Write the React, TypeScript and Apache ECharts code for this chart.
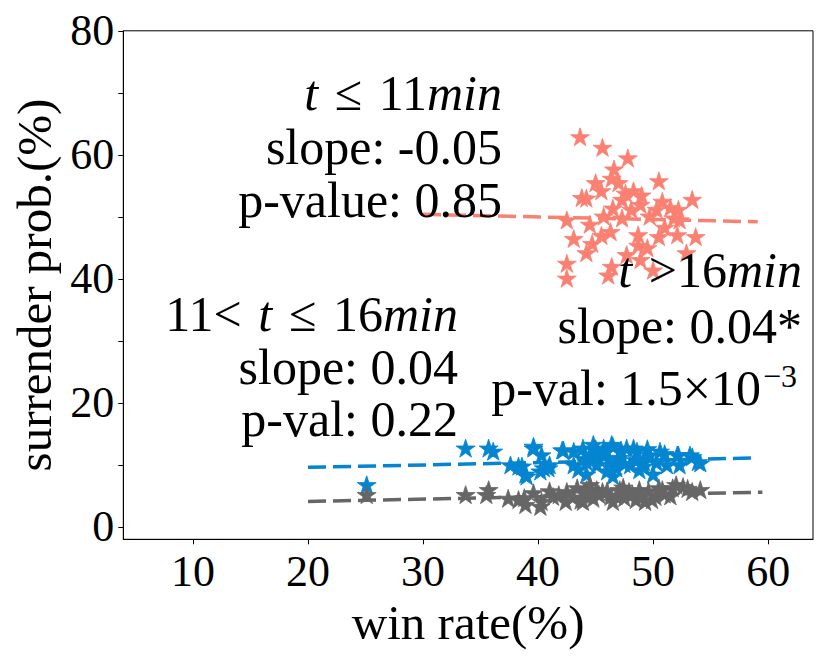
import React, { useEffect, useRef } from "react";
import * as echarts from "echarts";

// ---- data ----
const pinkWinRate = [43.65, 45.6, 47.8, 46.6, 46.4, 45.0, 50.5, 45.5, 44.2, 43.8, 47.6, 48.3, 47.3, 48.9, 50.8, 53.4, 46.5, 48.1, 50.3, 52.2, 45.7, 47.3, 42.5, 49.7, 51.8, 52.3, 46.3, 48.7, 50.5, 52.1, 53.7, 43.1, 44.7, 48.7, 44.2, 47.7, 48.9, 52.9, 42.5, 46.4, 50.0, 42.5, 46.1, 49.0, 51.5, 47.0, 44.5, 45.5, 49.5, 51.0];
const pinkSurrender = [62.9, 61.2, 59.5, 57.7, 56.2, 55.5, 55.8, 54.2, 53.0, 53.1, 53.8, 54.2, 52.8, 52.0, 52.5, 52.8, 51.4, 51.2, 51.2, 51.2, 50.1, 49.8, 49.5, 50.1, 49.8, 49.5, 47.6, 47.1, 46.8, 47.1, 46.8, 46.5, 45.7, 45.4, 44.2, 43.9, 43.1, 44.2, 42.5, 42.0, 41.4, 40.1, 40.6, 53.5, 51.5, 55.5, 48.8, 47.0, 45.0, 48.3];

const blueWinRate = [25.1, 33.7, 35.7, 36.1, 39.6, 40.3, 37.6, 38.3, 38.9, 40.5, 41.0, 42.2, 39.6, 38.6, 39.0, 42.1, 40.9, 40.2, 43.1, 43.9, 44.8, 45.7, 46.5, 43.1, 44.2, 45.1, 46.0, 46.8, 47.7, 48.6, 48.0, 49.2, 50.0, 50.6, 49.7, 52.1, 53.2, 54.1, 52.3, 51.2, 44.2, 46.5, 46.4, 48.3, 52.2, 53.4, 53.9, 49.2, 44.5, 45.3, 46.2, 47.0, 47.5, 48.5, 45.8, 44.0, 47.2, 49.5, 50.3, 51.0, 43.5, 46.6, 48.8, 45.0];
const blueSurrender = [6.8, 12.7, 12.7, 12.2, 13.0, 11.6, 10.0, 9.8, 8.5, 9.5, 10.0, 12.4, 12.7, 9.8, 8.2, 12.4, 9.5, 9.0, 12.2, 12.7, 13.3, 12.7, 13.0, 10.0, 10.5, 10.0, 9.0, 9.5, 12.7, 12.2, 10.0, 10.5, 8.5, 12.2, 11.6, 11.6, 11.6, 10.3, 10.0, 10.0, 8.5, 8.2, 13.3, 12.7, 11.6, 11.3, 10.5, 9.8, 11.5, 11.0, 10.8, 11.2, 10.2, 10.8, 12.0, 11.0, 12.4, 12.6, 10.4, 11.8, 9.3, 10.0, 9.2, 12.6];

const grayWinRate = [25.1, 33.7, 35.7, 35.5, 37.4, 38.3, 38.9, 39.6, 40.3, 40.2, 41.3, 42.5, 43.4, 43.9, 45.1, 46.3, 38.8, 44.5, 45.6, 47.1, 47.9, 48.8, 49.9, 50.5, 51.7, 52.6, 53.4, 54.1, 42.4, 46.5, 48.5, 49.3, 52.0, 41.8, 43.0, 44.0, 44.8, 45.3, 46.0, 46.8, 47.5, 48.2, 49.0, 49.6, 50.2, 51.0, 51.5, 47.4, 44.2, 50.8, 53.0, 41.0, 43.7];
const graySurrender = [5.2, 5.2, 6.0, 5.2, 4.6, 4.4, 3.6, 5.5, 4.1, 3.3, 4.9, 5.7, 6.3, 4.1, 6.0, 4.9, 4.7, 6.8, 5.7, 6.0, 5.7, 6.0, 4.4, 6.3, 6.3, 6.5, 5.7, 6.0, 4.1, 4.1, 4.4, 4.1, 6.8, 5.2, 4.8, 5.5, 4.6, 5.2, 5.8, 5.0, 4.7, 5.3, 5.0, 5.8, 4.9, 5.3, 5.0, 6.4, 6.0, 6.0, 6.2, 5.8, 4.3];

// regression line end points [x0, x1], [y0, y1]
const pinkFitX = [30, 59.1];
const pinkFitY = [50.4, 49.2];
const blueFitX = [20, 58.6];
const blueFitY = [9.6, 11.1];
const grayFitX = [20, 59.5];
const grayFitY = [4.1, 5.6];

const xTicks = [10, 20, 30, 40, 50, 60];
const yTicks = [0, 20, 40, 60, 80];
const yMinorTicks = [0, 10, 20, 30, 40, 50, 60, 70, 80];

const SP = "\u2004";
const group1Lines = [`{i|t}${SP}≤${SP}11{i|min}`, "slope: -0.05", "p-value: 0.85"];
const group2Lines = [`11<${SP}{i|t}${SP}≤${SP}16{i|min}`, "slope: 0.04", "p-val: 0.22"];
const group3Lines = [`{i|t}${SP}>16{i|min}`, "slope: 0.04*", "p-val: 1.5×10"];
const group3Sup = "−3";

const PINK = "#fa8072";
const BLUE = "#0485d1";
const GRAY = "#666666";
const FONT = '"Liberation Serif", "DejaVu Serif", serif';

const STAR =
  "path://M0,-1L0.2245,-0.309L0.951,-0.309L0.363,0.118L0.588,0.809L0,0.382L-0.588,0.809L-0.363,0.118L-0.951,-0.309L-0.2245,-0.309Z";

function zip(a: number[], b: number[]) {
  return a.map((v, i) => [v, b[i]]);
}

function scatter(name: string, xs: number[], ys: number[], color: string) {
  return {
    name,
    type: "scatter",
    data: zip(xs, ys),
    symbol: STAR,
    symbolSize: [19, 18],
    itemStyle: { color, opacity: 1, borderColor: color, borderWidth: 0.8 },
    z: 2,
  };
}

function fit(name: string, xs: number[], ys: number[], color: string) {
  return {
    name,
    type: "line",
    data: zip(xs, ys),
    symbol: "none",
    lineStyle: { color, width: 3.5, type: [18, 7] },
    z: 3,
  };
}

function textEl(text: string, x: number, y: number, size: number, align = "right") {
  return {
    type: "text",
    z: 100,
    style: {
      text,
      x,
      y,
      align,
      verticalAlign: "middle",
      fontFamily: FONT,
      fontSize: size,
      fill: "#000",
      rich: {
        i: { fontFamily: FONT, fontSize: size, fontStyle: "italic", fill: "#000" },
      },
    },
  };
}

export default function App() {
  const ref = useRef<HTMLDivElement>(null);
  useEffect(() => {
    if (!ref.current) return;
    const chart = echarts.init(ref.current, null, { renderer: "svg" });
    const g1y = [93, 146.5, 200];
    const g2y = [314, 367, 419];
    const g3y = [270, 326, 388];
    const graphic: any[] = [];
    group1Lines.forEach((t, i) => graphic.push(textEl(t, 502, g1y[i], 50)));
    group2Lines.forEach((t, i) => graphic.push(textEl(t, 458, g2y[i], 50)));
    group3Lines.forEach((t, i) => graphic.push(textEl(t, i === 2 ? 761 : 802, g3y[i], 50)));
    graphic.push(textEl(group3Sup, 763, 376, 32, "left"));

    const axisCommon = {
      axisLine: { show: true, onZero: false, lineStyle: { color: "#000", width: 1 } },
      splitLine: { show: false },
      axisLabel: { fontFamily: FONT, fontSize: 44, color: "#000" },
    };

    chart.setOption({
      animation: false,
      backgroundColor: "#fff",
      grid: {
        left: 123.3,
        right: 17,
        top: 30.8,
        bottom: 124.7,
        show: true,
        borderColor: "#000",
        borderWidth: 1,
        backgroundColor: "transparent",
      },
      xAxis: {
        type: "value",
        min: 3.94,
        max: 63.9,
        ...axisCommon,
        axisTick: {
          show: true,
          length: 5,
          inside: false,
          customValues: xTicks,
          lineStyle: { color: "#000", width: 1 },
        },
        axisLabel: { ...axisCommon.axisLabel, customValues: xTicks, margin: 10 },
        name: "win rate(%)",
        nameLocation: "middle",
        nameGap: 57,
        nameTextStyle: { fontFamily: FONT, fontSize: 49, color: "#000" },
      },
      yAxis: {
        type: "value",
        min: -2,
        max: 80,
        ...axisCommon,
        axisTick: {
          show: true,
          length: 5,
          inside: false,
          customValues: yMinorTicks,
          lineStyle: { color: "#000", width: 1 },
        },
        axisLabel: { ...axisCommon.axisLabel, customValues: yTicks, margin: 9 },
        name: "surrender prob.(%)",
        nameLocation: "middle",
        nameRotate: 90,
        nameGap: 53,
        nameTextStyle: { fontFamily: FONT, fontSize: 49, color: "#000" },
      },
      series: [
        scatter("pink", pinkWinRate, pinkSurrender, PINK),
        fit("pinkFit", pinkFitX, pinkFitY, PINK),
        scatter("blue", blueWinRate, blueSurrender, BLUE),
        fit("blueFit", blueFitX, blueFitY, BLUE),
        scatter("gray", grayWinRate, graySurrender, GRAY),
        fit("grayFit", grayFitX, grayFitY, GRAY),
      ],
      graphic,
    });
    return () => chart.dispose();
  }, []);
  return (
    <div
      ref={ref}
      style={{ position: "fixed", left: 0, top: 0, width: 830, height: 664 }}
    />
  );
}
